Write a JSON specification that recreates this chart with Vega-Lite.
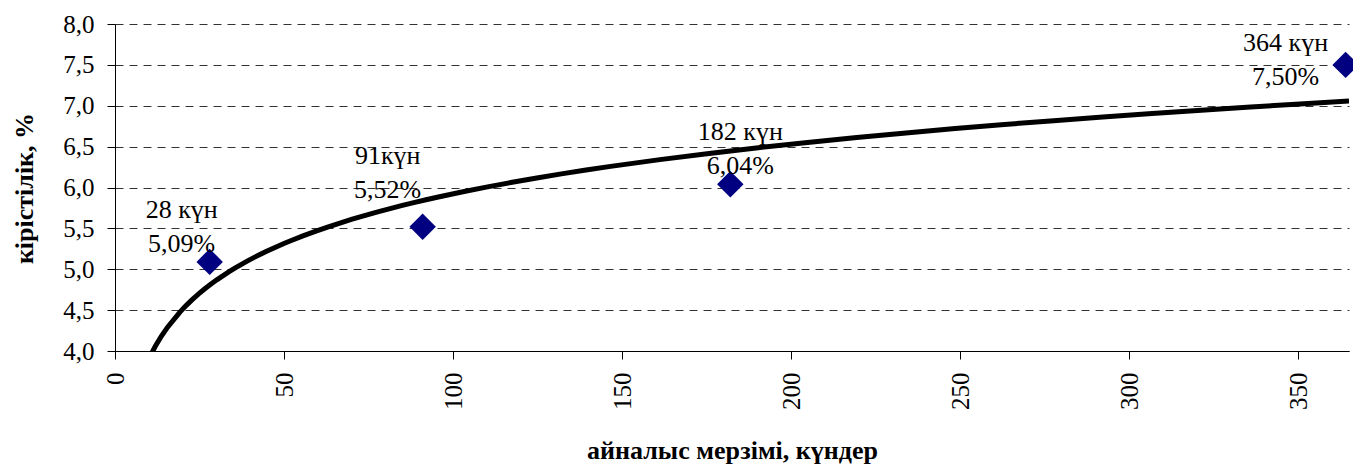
{
  "$schema": "https://vega.github.io/schema/vega-lite/v6.json",
  "autosize": {"type": "none"},
  "width": 1234,
  "height": 327,
  "padding": {"left": 115, "top": 24, "right": 4, "bottom": 115},
  "background": "white",
  "config": {
    "font": "Liberation Serif",
    "view": {"stroke": null},
    "axis": {
      "labelFont": "Liberation Serif",
      "titleFont": "Liberation Serif",
      "labelFontSize": 25,
      "titleFontSize": 26,
      "titleFontWeight": "bold",
      "labelColor": "black",
      "titleColor": "black",
      "domainColor": "black",
      "tickColor": "black",
      "tickSize": 8,
      "labelPadding": 13
    }
  },
  "data": {
    "values": [
      {"days": 28, "yield": 5.09, "label": "28 күн\n5,09%"},
      {"days": 91, "yield": 5.52, "label": "91күн\n5,52%"},
      {"days": 182, "yield": 6.04, "label": "182 күн\n6,04%"},
      {"days": 364, "yield": 7.5, "label": "364 күн\n7,50%"}
    ]
  },
  "encoding": {
    "x": {
      "field": "days",
      "type": "quantitative",
      "scale": {"domain": [0, 365], "nice": false, "zero": false},
      "axis": {
        "title": "айналыс мерзімі, күндер",
        "values": [0, 50, 100, 150, 200, 250, 300, 350],
        "labelAngle": -90,
        "grid": false,
        "titleY": 107,
        "titleBaseline": "alphabetic"
      }
    },
    "y": {
      "field": "yield",
      "type": "quantitative",
      "scale": {"domain": [4, 8], "nice": false, "zero": false},
      "axis": {
        "title": "кірістілік, %",
        "values": [4, 4.5, 5, 5.5, 6, 6.5, 7, 7.5, 8],
        "labelExpr": "replace(format(datum.value, '.1f'), '.', ',')",
        "grid": true,
        "gridColor": "#333333",
        "gridDash": [8, 6],
        "gridWidth": 1,
        "titleX": -83,
        "titleY": 164,
        "titleBaseline": "alphabetic"
      }
    }
  },
  "layer": [
    {
      "transform": [
        {"regression": "yield", "on": "days", "method": "log", "extent": [1, 365]}
      ],
      "mark": {"type": "line", "color": "black", "strokeWidth": 5, "clip": true}
    },
    {
      "mark": {"type": "point", "shape": "diamond", "filled": true, "color": "#000080", "opacity": 1, "size": 700}
    },
    {
      "transform": [{"filter": "datum.days == 28"}],
      "mark": {"type": "text", "align": "center", "baseline": "alphabetic", "lineBreak": "\n", "lineHeight": 34, "fontSize": 26, "color": "black", "dx": -28, "dy": -44},
      "encoding": {"text": {"field": "label"}}
    },
    {
      "transform": [{"filter": "datum.days == 91"}],
      "mark": {"type": "text", "align": "center", "baseline": "alphabetic", "lineBreak": "\n", "lineHeight": 34, "fontSize": 26, "color": "black", "dx": -35, "dy": -63},
      "encoding": {"text": {"field": "label"}}
    },
    {
      "transform": [{"filter": "datum.days == 182"}],
      "mark": {"type": "text", "align": "center", "baseline": "alphabetic", "lineBreak": "\n", "lineHeight": 34, "fontSize": 26, "color": "black", "dx": 10, "dy": -44},
      "encoding": {"text": {"field": "label"}}
    },
    {
      "transform": [{"filter": "datum.days == 364"}],
      "mark": {"type": "text", "align": "center", "baseline": "alphabetic", "lineBreak": "\n", "lineHeight": 34, "fontSize": 26, "color": "black", "dx": -60, "dy": -14},
      "encoding": {"text": {"field": "label"}}
    }
  ]
}
